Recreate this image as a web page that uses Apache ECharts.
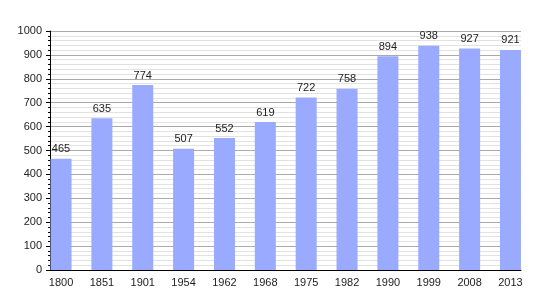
<!DOCTYPE html>
<html><head><meta charset="utf-8">
<script src="https://cdn.jsdelivr.net/npm/echarts@6/dist/echarts.min.js"></script>
<style>html,body{margin:0;padding:0;background:#fff}#c{width:550px;height:300px}</style>
</head><body><div id="c"></div>
<script>
const years = ['1800','1851','1901','1954','1962','1968','1975','1982','1990','1999','2008','2013'];
const population = [465,635,774,507,552,619,722,758,894,938,927,921];
const yTicks = [0,100,200,300,400,500,600,700,800,900,1000];

const chart = echarts.init(document.getElementById('c'));
const font = 'Liberation Sans, Arial, sans-serif';
chart.setOption({
  animation: false,
  grid: [
    {left: 50, right: 29, top: 31, bottom: 30},
    {left: 40.6, right: 19.1, top: 31, bottom: 30}
  ],
  xAxis: [
    {gridIndex: 0, type: 'value', min: 0, max: 1, axisLine: {show: true, lineStyle: {color: '#000', width: 1}},
     axisTick: {show: false}, axisLabel: {show: false}, splitLine: {show: false}},
    {gridIndex: 1, type: 'category', data: years, axisLine: {show: false}, axisTick: {show: false},
     axisLabel: {color: '#222', fontFamily: font, fontSize: 11, margin: 7}}
  ],
  yAxis: [
    {gridIndex: 0, type: 'value', min: yTicks[0], max: yTicks[yTicks.length-1], interval: 100,
     axisLine: {show: true, lineStyle: {color: '#000'}},
     axisTick: {show: true, length: 4, lineStyle: {color: '#000'}},
     minorTick: {show: true, splitNumber: 5, length: 2, lineStyle: {color: '#000'}},
     axisLabel: {color: '#222', fontFamily: font, fontSize: 11, margin: 8, formatter: v => String(v)},
     splitLine: {show: true, lineStyle: {color: '#aaa', width: 1}},
     minorSplitLine: {show: true, lineStyle: {color: '#e2e2e2', width: 1}}},
    {gridIndex: 1, type: 'value', min: 0, max: 1000, show: false, splitLine: {show: false}}
  ],
  series: [{
    type: 'bar', xAxisIndex: 1, yAxisIndex: 1, data: population, barWidth: 21,
    itemStyle: {color: '#99aaff'},
    label: {show: true, position: 'top', distance: 4, color: '#222', fontFamily: font, fontSize: 11}
  }]
});
</script></body></html>
